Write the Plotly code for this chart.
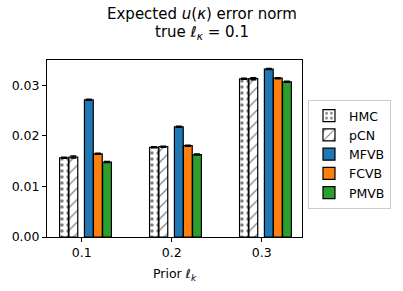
import plotly.graph_objects as go

prior = [0.1, 0.2, 0.3]
methods = ["HMC", "pCN", "MFVB", "FCVB", "PMVB"]
offsets = [-0.0197, -0.0093, 0.0079, 0.0179, 0.0281]
values = {
    "HMC":  [0.01567, 0.01773, 0.03127],
    "pCN":  [0.01580, 0.01786, 0.03130],
    "MFVB": [0.02714, 0.02180, 0.03320],
    "FCVB": [0.01644, 0.01805, 0.03140],
    "PMVB": [0.01483, 0.01630, 0.03070],
}
errors = {
    "HMC":  [0.0001, 0.0001, 0.0001],
    "pCN":  [0.0002, 0.0001, 0.0002],
    "MFVB": [0.0001, 0.0001, 0.0001],
    "FCVB": [0.0001, 0.0001, 0.0001],
    "PMVB": [0.0001, 0.0001, 0.0001],
}
colors = {"HMC": "white", "pCN": "white", "MFVB": "#1f77b4", "FCVB": "#ff7f0e", "PMVB": "#2ca02c"}
patterns = {"HMC": ".", "pCN": "/", "MFVB": "", "FCVB": "", "PMVB": ""}
bar_w = 0.0098

fig = go.Figure()
for m, off in zip(methods, offsets):
    marker = dict(color=colors[m], line=dict(color="black", width=1.2))
    if patterns[m]:
        marker["pattern"] = dict(shape=patterns[m], fgcolor="black", bgcolor="white",
                                 size=6 if patterns[m] == "." else 8,
                                 solidity=0.25 if patterns[m] == "." else 0.15)
    fig.add_trace(go.Bar(
        x=[p + off for p in prior], y=values[m], width=bar_w, name=m,
        marker=marker,
        error_y=dict(type="data", array=errors[m], color="black", thickness=1.5, width=3),
    ))

fig.update_layout(
    width=403, height=291,
    margin=dict(l=47, r=101, t=60, b=50),
    paper_bgcolor="white", plot_bgcolor="white",
    font=dict(family="DejaVu Sans", size=12.5, color="black"),
    showlegend=True, barmode="overlay",
    legend=dict(x=1.0235, y=0.7735, xanchor="left", yanchor="top",
                bordercolor="#cccccc", borderwidth=1, font=dict(size=12.5),
                itemwidth=30, tracegroupgap=0),
    annotations=[
        dict(text="Expected <i>u</i>(<i>κ</i>) error norm", xref="paper", yref="paper",
             x=0.608, y=1.262, xanchor="center", yanchor="middle", showarrow=False,
             borderpad=0, font=dict(size=15)),
        dict(text="true <i>ℓ</i><sub><i>κ</i></sub> = 0.1", xref="paper", yref="paper",
             x=0.608, y=1.155, xanchor="center", yanchor="middle", showarrow=False,
             borderpad=0, font=dict(size=15)),
    ],
)
fig.update_xaxes(range=[0.0614, 0.3448], tickvals=prior, ticktext=["0.1", "0.2", "0.3"],
                 showline=True, linecolor="black", linewidth=1, mirror=True,
                 ticks="outside", ticklen=4, tickcolor="black", showgrid=False, zeroline=False,
                 title=dict(text="Prior <i>ℓ</i><sub><i>k</i></sub>", standoff=10,
                            font=dict(size=12.5)))
fig.update_yaxes(range=[0, 0.035], tickvals=[0, 0.01, 0.02, 0.03],
                 ticktext=["0.00", "0.01", "0.02", "0.03"],
                 showline=True, linecolor="black", linewidth=1, mirror=True,
                 ticks="outside", ticklen=4, tickcolor="black", showgrid=False, zeroline=False)

fig.write_html("out.html", config={"displayModeBar": False},
               post_script="document.body.style.margin='0';")
